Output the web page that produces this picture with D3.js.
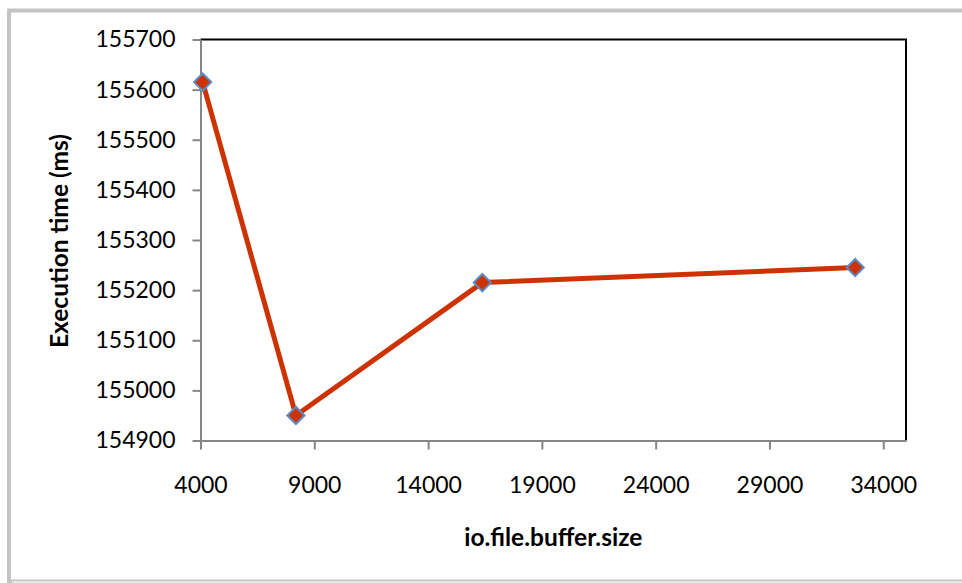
<!DOCTYPE html>
<html>
<head>
<meta charset="utf-8">
<script src="https://cdn.jsdelivr.net/npm/d3@7"></script>
<style>
  html, body { margin: 0; padding: 0; background: #fff; }
  svg { display: block; }
  text { font-family: Lato, "Open Sans", sans-serif; fill: #000; }
</style>
</head>
<body>
<svg id="chart" width="962" height="583"></svg>
<script>
// Buffer sizes (bytes) and measured execution time (ms)
const bufferSizes = [4096, 8192, 16384, 32768];
const execTimes = [155615, 154950, 155215, 155245];

const xTicks = [4000, 9000, 14000, 19000, 24000, 29000, 34000];
const yTicks = [154900, 155000, 155100, 155200, 155300, 155400, 155500, 155600, 155700];

const xTitle = "io.file.buffer.size";
const yTitle = "Execution time (ms)";

const svg = d3.select("#chart");

// outer chart frame
svg.append("rect")
  .attr("x", 9).attr("y", 10.5)
  .attr("width", 970).attr("height", 571)
  .attr("fill", "#fff")
  .attr("stroke", "#c4c4c4").attr("stroke-width", 4);
svg.append("line")
  .attr("x1", 12).attr("x2", 962).attr("y1", 582).attr("y2", 582)
  .attr("stroke", "#f2f2f2").attr("stroke-width", 1.5);

const plot = { left: 200.5, right: 906, top: 39.5, bottom: 440.5 };

const x = d3.scaleLinear().domain([4000, 35000]).range([plot.left, plot.right]);
const y = d3.scaleLinear().domain([154900, 155700]).range([plot.bottom, plot.top]);

// plot area border: top and right in black
svg.append("path")
  .attr("d", `M${plot.left},${plot.top}H${plot.right}V${plot.bottom}`)
  .attr("fill", "none").attr("stroke", "#000").attr("stroke-width", 2);

// y axis
const yAxis = svg.append("g")
  .attr("transform", `translate(${plot.left},0)`)
  .call(d3.axisLeft(y).tickValues(yTicks).tickFormat(d3.format("d"))
    .tickSize(8).tickSizeOuter(0).tickPadding(17));
yAxis.select(".domain").attr("stroke", "#868686").attr("stroke-width", 2);
yAxis.selectAll(".tick line").attr("stroke", "#868686").attr("stroke-width", 2);
yAxis.selectAll(".tick text").attr("font-size", 23).attr("font-family", "Lato, sans-serif").attr("fill", "#000");

// x axis
const xAxis = svg.append("g")
  .attr("transform", `translate(0,${plot.bottom})`)
  .call(d3.axisBottom(x).tickValues(xTicks).tickFormat(d3.format("d"))
    .tickSize(9).tickSizeOuter(0).tickPadding(27));
xAxis.select(".domain").attr("stroke", "#868686").attr("stroke-width", 2);
xAxis.selectAll(".tick line").attr("stroke", "#868686").attr("stroke-width", 2);
xAxis.selectAll(".tick text").attr("font-size", 23).attr("font-family", "Lato, sans-serif").attr("fill", "#000");

// axis titles
svg.append("text")
  .attr("x", (plot.left + plot.right) / 2).attr("y", 546)
  .attr("text-anchor", "middle")
  .attr("font-size", 24.5).attr("font-weight", "bold")
  .text(xTitle);

svg.append("text")
  .attr("transform", `translate(68,${(plot.top + plot.bottom) / 2 + 1}) rotate(-90)`)
  .attr("text-anchor", "middle")
  .attr("font-size", 24.5).attr("font-weight", "bold")
  .text(yTitle);

// series line
const points = bufferSizes.map((b, i) => ({ b, t: execTimes[i] }));
const line = d3.line().x(d => x(d.b)).y(d => y(d.t));

svg.append("path")
  .datum(points)
  .attr("d", line)
  .attr("fill", "none")
  .attr("stroke", "#cc3300")
  .attr("stroke-width", 5)
  .attr("stroke-linejoin", "round");

// diamond markers
const diamond = d3.symbol().type(d3.symbolDiamond2).size(190);
svg.selectAll(".marker")
  .data(points)
  .join("path")
  .attr("class", "marker")
  .attr("transform", d => `translate(${x(d.b)},${y(d.t)})`)
  .attr("d", diamond)
  .attr("fill", "#cc3300")
  .attr("stroke", "#5b8cc8")
  .attr("stroke-width", 2);
</script>
</body>
</html>
